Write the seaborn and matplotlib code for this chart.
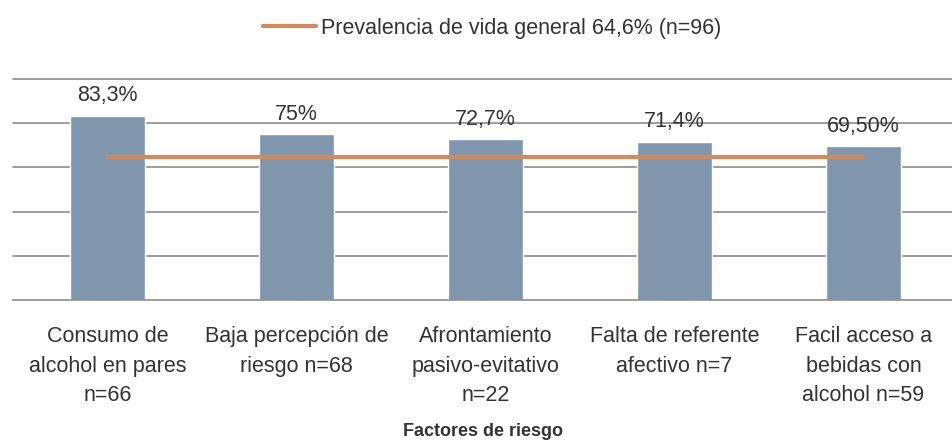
import seaborn as sns
import matplotlib.pyplot as plt
from matplotlib.lines import Line2D

# data
factores = ["Consumo de\nalcohol en pares\nn=66",
            "Baja percepción de\nriesgo n=68",
            "Afrontamiento\npasivo-evitativo\nn=22",
            "Falta de referente\nafectivo n=7",
            "Facil acceso a\nbebidas con\nalcohol n=59"]
porcentajes = [83.3, 75, 72.7, 71.4, 69.5]
etiquetas = ["83,3%", "75%", "72,7%", "71,4%", "69,50%"]
prevalencia = 64.6
leyenda = "Prevalencia de vida general 64,6% (n=96)"

sns.set_style("white")
plt.rcParams['font.family'] = ['Liberation Sans', 'DejaVu Sans']
txt = "#333333"

fig = plt.figure(figsize=(9.53, 4.46), dpi=100)
ax = fig.add_axes([13/953, 146/446, 940/953, 221/446])

sns.barplot(x=factores, y=porcentajes, color="#7F96AD", saturation=1,
            width=0.4, ax=ax, zorder=2)
ax.bar_label(ax.containers[0], labels=etiquetas, padding=7,
             fontsize=15.5, color=txt)

sns.lineplot(x=factores, y=[prevalencia] * len(factores), color="#D4895A",
             linewidth=3, solid_capstyle="round", ax=ax, zorder=3)

ax.set_ylim(0, 100)
ax.set_xlim(-0.5, 4.5 - 5/189)
ax.set_yticks([20, 40, 60, 80, 100])
ax.yaxis.grid(True, color="#8C8C8C", linewidth=1.2)
for gl in ax.get_ygridlines():
    gl.set_clip_on(False)
ax.tick_params(axis="y", left=False, labelleft=False)
ax.set_axisbelow(True)
for s in ["top", "right", "left"]:
    ax.spines[s].set_visible(False)
ax.spines["bottom"].set_color("#8C8C8C")
ax.spines["bottom"].set_linewidth(1.2)

ax.set_xticks(range(len(factores)))
ax.set_xticklabels(factores, fontsize=15.5, color=txt, linespacing=1.52)
ax.tick_params(axis="x", which="major", length=0, pad=19)
ax.set_xticks([i - 0.5 for i in range(len(factores))], minor=True)
ax.tick_params(axis="x", which="minor", length=6, color="#8C8C8C", width=1.2)

ax.set_xlabel("Factores de riesgo", fontsize=13, fontweight="bold",
              color=txt, labelpad=12)
ax.set_ylabel("")

handle = Line2D([], [], color="#D4895A", linewidth=3, solid_capstyle="round")
fig.legend([handle], [leyenda], loc="center", bbox_to_anchor=(0.516, 0.937),
           frameon=False, fontsize=15.5, handlelength=2.5, handletextpad=0.2,
           labelcolor=txt)

plt.savefig("out.png", dpi=100)
